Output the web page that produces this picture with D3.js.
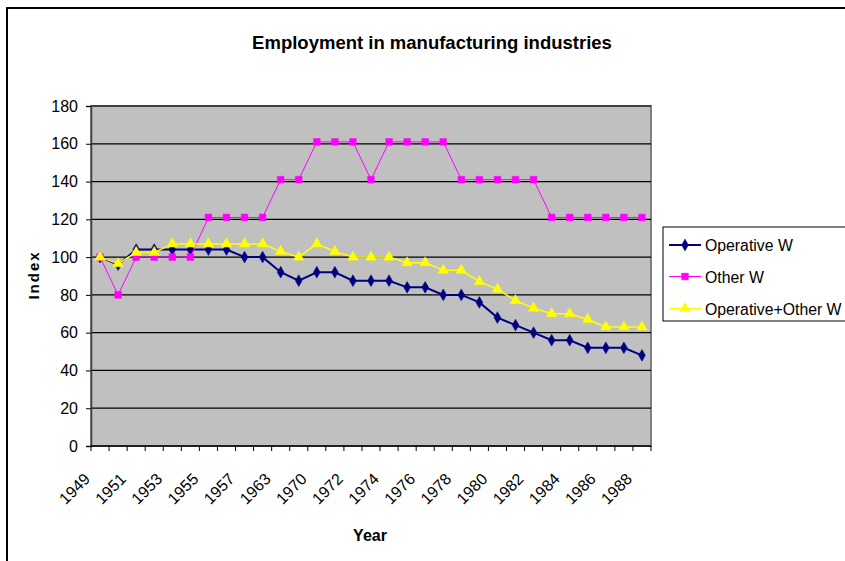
<!DOCTYPE html>
<html>
<head>
<meta charset="utf-8">
<script src="https://cdn.jsdelivr.net/npm/d3@7"></script>
<style>
  html, body { margin: 0; padding: 0; background: #fff; }
  svg { display: block; font-family: "Liberation Sans", Arial, sans-serif; }
</style>
</head>
<body>
<svg id="chart" width="845" height="561"></svg>
<script>
// ---- Data ----
const categories = ["1949","1950","1951","1952","1953","1954","1955","1956","1957","1960",
  "1963","1966","1970","1971","1972","1973","1974","1975","1976","1977","1978","1979",
  "1980","1981","1982","1983","1984","1985","1986","1987","1988"];
const operativeW = [100, 96, 104, 104, 104, 104, 104, 104, 100, 100, 92, 87.5, 92, 92, 87.5, 87.5,
  87.5, 84, 84, 80, 80, 76, 68, 64, 60, 56, 56, 52, 52, 52, 48];
const otherW = [100, 80, 100, 100, 100, 100, 121, 121, 121, 121, 141, 141, 161, 161, 161, 141,
  161, 161, 161, 161, 141, 141, 141, 141, 141, 121, 121, 121, 121, 121, 121];
const operativePlusOther = [100, 96.5, 102.5, 102.5, 107, 107, 107, 107, 107, 107, 103, 100, 107, 103,
  100, 100, 100, 97, 97, 93, 93, 87, 83, 77, 73, 70, 70, 67, 63, 63, 63];
const yTicks = [0, 20, 40, 60, 80, 100, 120, 140, 160, 180];
const xTickLabels = categories.filter((d, i) => i % 2 === 0);
const seriesNames = ["Operative W", "Other W", "Operative+Other W"];

const series = [
  { name: seriesNames[0], values: operativeW, color: "#000080", width: 2, symbol: d3.symbolDiamond, size: 40 },
  { name: seriesNames[1], values: otherW, color: "#FF00FF", width: 1, symbol: d3.symbolSquare, size: 45 },
  { name: seriesNames[2], values: operativePlusOther, color: "#FFFF00", width: 1.5, symbol: d3.symbolTriangle, size: 48 }
];

// ---- Layout ----
const svg = d3.select("#chart");
const plot = { left: 91, top: 106, right: 651, bottom: 446 };

svg.append("rect").attr("width", 845).attr("height", 561).attr("fill", "#fff");
// outer chart frame
svg.append("rect").attr("x", 7).attr("y", 8).attr("width", 900).attr("height", 600)
  .attr("fill", "none").attr("stroke", "#000").attr("stroke-width", 2);

const x = d3.scaleBand().domain(categories).range([plot.left, plot.right]).padding(0);
const y = d3.scaleLinear().domain([0, 180]).range([plot.bottom, plot.top]);
const cx = d => x(d) + x.bandwidth() / 2;

// plot area background
svg.append("rect").attr("x", plot.left).attr("y", plot.top)
  .attr("width", plot.right - plot.left).attr("height", plot.bottom - plot.top)
  .attr("fill", "#C0C0C0").attr("stroke", "#808080").attr("stroke-width", 2);

// gridlines
svg.append("g").selectAll("line").data(yTicks.filter(t => t > 0)).join("line")
  .attr("x1", plot.left).attr("x2", plot.right)
  .attr("y1", d => y(d)).attr("y2", d => y(d))
  .attr("stroke", "#000").attr("stroke-width", 1.2);

// y axis
const yAxis = svg.append("g").attr("transform", `translate(${plot.left},0)`)
  .call(d3.axisLeft(y).tickValues(yTicks).tickSize(5).tickPadding(8).tickFormat(d3.format("d")));
yAxis.select(".domain").attr("stroke", "#404040").attr("stroke-width", 1.5);
yAxis.selectAll(".tick line").attr("stroke", "#000");
yAxis.selectAll("text").attr("font-size", 16).attr("fill", "#000")
  .attr("font-family", "Liberation Sans, Arial, sans-serif");

// x axis: line + boundary ticks
const xg = svg.append("g");
xg.append("line").attr("x1", plot.left).attr("x2", plot.right)
  .attr("y1", plot.bottom).attr("y2", plot.bottom).attr("stroke", "#000").attr("stroke-width", 1.5);
const boundaries = categories.map(c => x(c)).concat([x(categories[categories.length - 1]) + x.bandwidth()]);
xg.selectAll("line.tk").data(boundaries).join("line").attr("class", "tk")
  .attr("x1", d => d).attr("x2", d => d)
  .attr("y1", plot.bottom).attr("y2", plot.bottom + 5)
  .attr("stroke", "#000");
xg.selectAll("text").data(xTickLabels).join("text")
  .attr("transform", d => `translate(${cx(d) - 9},480) rotate(-45)`)
  .attr("text-anchor", "end")
  .attr("font-size", 16).attr("fill", "#000")
  .text(d => d);

// lines and markers
series.forEach(s => {
  const line = d3.line().x((d, i) => cx(categories[i])).y(d => y(d));
  svg.append("path").datum(s.values).attr("d", line)
    .attr("fill", "none").attr("stroke", s.color).attr("stroke-width", s.width);
  svg.append("g").selectAll("path").data(s.values).join("path")
    .attr("transform", (d, i) => `translate(${cx(categories[i])},${y(d)})`)
    .attr("d", d3.symbol().type(s.symbol).size(s.size))
    .attr("fill", s.color).attr("stroke", s.color).attr("stroke-width", 0.5);
});

// title
svg.append("text").attr("x", 432).attr("y", 49).attr("text-anchor", "middle")
  .attr("font-size", 18.5).attr("font-weight", "bold").text("Employment in manufacturing industries");

// axis titles
svg.append("text").attr("transform", "translate(39,275) rotate(-90)").attr("text-anchor", "middle")
  .attr("font-size", 15).attr("font-weight", "bold").attr("letter-spacing", 2).text("Index");
svg.append("text").attr("x", 370).attr("y", 541).attr("text-anchor", "middle")
  .attr("font-size", 16).attr("font-weight", "bold").text("Year");

// legend
const lg = svg.append("g");
lg.append("rect").attr("x", 663).attr("y", 227).attr("width", 220).attr("height", 94)
  .attr("fill", "#fff").attr("stroke", "#000").attr("stroke-width", 1);
const rowsY = [245, 276.5, 308.5];
series.forEach((s, i) => {
  const gy = rowsY[i];
  lg.append("line").attr("x1", 669).attr("x2", 701).attr("y1", gy).attr("y2", gy)
    .attr("stroke", s.color).attr("stroke-width", s.width);
  lg.append("path").attr("transform", `translate(685,${gy})`)
    .attr("d", d3.symbol().type(s.symbol).size(s.size))
    .attr("fill", s.color).attr("stroke", s.color).attr("stroke-width", 0.5);
  lg.append("text").attr("x", 705).attr("y", gy + 6).attr("font-size", 15.8).text(s.name);
});
</script>
</body>
</html>
